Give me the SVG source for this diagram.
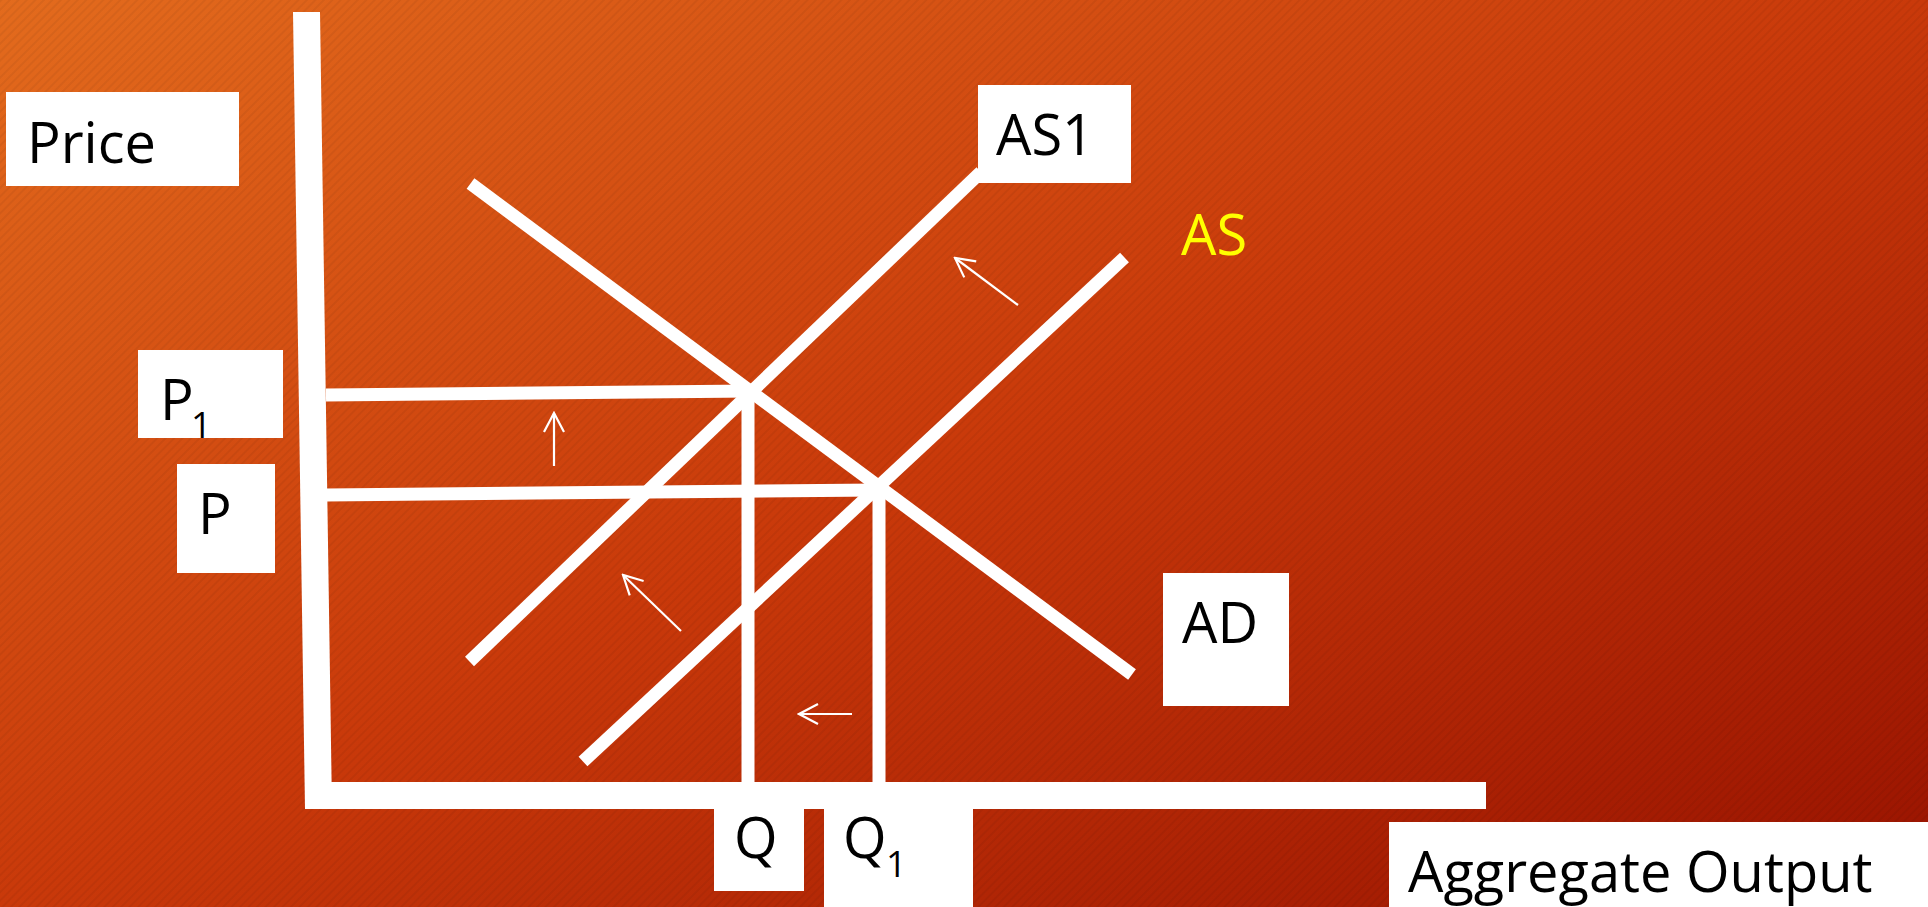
<svg xmlns="http://www.w3.org/2000/svg" width="1928" height="907" viewBox="0 0 1928 907">
  <defs>
    <linearGradient id="bg" x1="0" y1="0" x2="1" y2="1">
      <stop offset="0" stop-color="#E36B1D"/>
      <stop offset="0.5" stop-color="#C9390A"/>
      <stop offset="1" stop-color="#981200"/>
    </linearGradient>
    <pattern id="stripes" width="6" height="6" patternUnits="userSpaceOnUse" patternTransform="rotate(45)">
      <rect x="0" y="0" width="2" height="6" fill="#000" fill-opacity="0.05"/>
    </pattern>
    <marker id="open-head" markerUnits="userSpaceOnUse" markerWidth="24" markerHeight="24" viewBox="-22 -12 24 24" refX="0" refY="0" orient="auto">
      <path d="M-19,-10 L0,0 L-19,10" fill="none" stroke="#fff" stroke-width="2.2"/>
    </marker>
    <style>
      .thick { stroke: #fff; stroke-width: 13; fill: none; stroke-linecap: butt; }
      .thin { stroke: #fff; stroke-width: 2.2; fill: none; marker-end: url(#open-head); }
      .box { fill: #fff; }
      .lbl { font-family: "Open Sans", "Liberation Sans", sans-serif; font-size: 56px; fill: #000; }
      .sub { font-family: "Open Sans", "Liberation Sans", sans-serif; font-size: 36px; fill: #000; }
    </style>
  </defs>

  <!-- background -->
  <rect x="0" y="0" width="1928" height="907" fill="url(#bg)"/>
  <rect x="0" y="0" width="1928" height="907" fill="url(#stripes)"/>

  <!-- axes -->
  <g id="axes" fill="#fff">
    <polygon points="293,12 320,12 332,809 305,809"/>
    <rect x="305" y="782" width="1181" height="27"/>
  </g>

  <!-- curves, guide lines and shift arrows -->
  <g id="connectors">
    <line class="thick" x1="326" y1="395" x2="752" y2="391"/>
    <line class="thick" x1="326" y1="495" x2="878" y2="490"/>
    <line class="thick" x1="748" y1="391" x2="748" y2="782" stroke-width="14"/>
    <line class="thick" x1="879" y1="486" x2="879" y2="782" stroke-width="14"/>
    <line id="ad-curve" class="thick" x1="470.5" y1="183.5" x2="1132" y2="674.5"/>
    <line id="as1-curve" class="thick" x1="469.5" y1="661.5" x2="981" y2="172"/>
    <line id="as-curve" class="thick" x1="583" y1="761.5" x2="1124.5" y2="257.5"/>

    <line class="thin" x1="554" y1="466" x2="554" y2="413"/>
    <line class="thin" x1="681" y1="631" x2="623" y2="575"/>
    <line class="thin" x1="1018" y1="305" x2="955" y2="258"/>
    <line class="thin" x1="852" y1="714" x2="799" y2="714"/>
  </g>

  <!-- labels -->
  <g id="price-label">
    <rect class="box" x="6" y="92" width="233" height="94"/>
    <text class="lbl" x="27" y="163">Price</text>
  </g>
  <g id="p1-label">
    <rect class="box" x="138" y="350" width="145" height="88"/>
    <text class="lbl" x="160" y="420">P</text>
    <text class="sub" x="191" y="438">1</text>
  </g>
  <g id="p-label">
    <rect class="box" x="177" y="464" width="98" height="109"/>
    <text class="lbl" x="198" y="534">P</text>
  </g>
  <g id="as1-label">
    <rect class="box" x="978" y="85" width="153" height="98"/>
    <text class="lbl" x="996" y="155">AS1</text>
  </g>
  <g id="as-label">
    <text class="lbl" x="1181" y="255" fill="#FFFF00" style="fill:#FFFF00">AS</text>
  </g>
  <g id="ad-label">
    <rect class="box" x="1163" y="573" width="126" height="133"/>
    <text class="lbl" x="1182" y="643">AD</text>
  </g>
  <g id="q-label">
    <rect class="box" x="714" y="809" width="90" height="82"/>
    <text class="lbl" x="734" y="858">Q</text>
  </g>
  <g id="q1-label">
    <rect class="box" x="824" y="809" width="149" height="98"/>
    <text class="lbl" x="843" y="858">Q</text>
    <text class="sub" x="886" y="877">1</text>
  </g>
  <g id="output-label">
    <rect class="box" x="1389" y="822" width="539" height="85"/>
    <text class="lbl" x="1408" y="892">Aggregate Output</text>
  </g>
</svg>
